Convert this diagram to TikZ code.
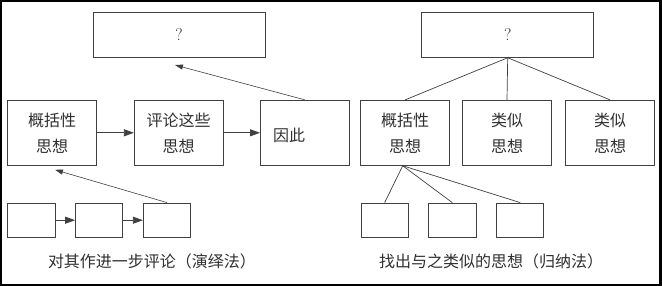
\documentclass[tikz,border=0pt]{standalone}
\usepackage{fontspec}
\newfontfamily\cjk{Noto Sans CJK SC}
\usetikzlibrary{arrows.meta,calc}
\definecolor{linec}{HTML}{404040}
\definecolor{txtc}{HTML}{303030}
\begin{document}
\begin{tikzpicture}[x=1pt,y=-1pt,
  bx/.style n args={2}{draw=linec,line width=0.9pt,minimum width=#1,minimum height=#2,inner sep=0pt,
    font=\cjk\fontsize{16}{26}\selectfont,align=center,text=txtc},
  qbox/.style={bx={172pt}{45pt},font=\fontsize{17}{20}\selectfont},
  bigbox/.style={bx={88.7pt}{65pt}},
  smallbox/.style={bx={47.3pt}{34.3pt}},
  harrow/.style={draw=linec,line width=0.8pt,-{Triangle[length=10pt,width=7pt]}},
  darrow/.style={draw=linec,line width=0.6pt,-{Triangle[length=8pt,width=5pt]}},
  conn/.style={draw=linec,line width=0.7pt},
  caption/.style={font=\cjk\fontsize{16}{20}\selectfont,text=txtc,inner sep=0pt}]
\fill[black] (0,0) rectangle (662,286);
\fill[white] (2,2.5) rectangle (659.3,283.6);

% left: deduction
\node[qbox] (q1) at (179,34.8) {?};
\node[bigbox] (a1) at (52.2,132.8) {概括性\\思想};
\node[bigbox] (a2) at (178.7,132.8) {评论这些\\思想};
\node[bigbox] (a3) at (304.8,132.8) {};
\node[font=\cjk\fontsize{16}{20}\selectfont,text=txtc,inner sep=0pt] (a3t) at (289.2,135) {因此};
\node[smallbox] (b1) at (31.3,220.2) {};
\node[smallbox] (b2) at (99.2,220.2) {};
\node[smallbox] (b3) at (167,220.2) {};
\coordinate (t1) at (55,169.8);
\coordinate (t2) at (175,65);
\draw[harrow] (a1) -- (a2);
\draw[harrow] (a2) -- (a3);
\draw[harrow] (b1) -- (b2);
\draw[harrow] (b2) -- (b3);
\draw[darrow] (b3.north) -- (t1);
\draw[darrow] (a3.north) -- (t2);
\node[caption] (cap1) at (152,261.5) {对其作进一步评论（演绎法）};

% right: induction
\node[qbox] (q2) at (507.7,34.8) {?};
\node[bigbox] (c1) at (405.2,132.8) {概括性\\思想};
\node[bigbox] (c2) at (507,132.8) {类似\\思想};
\node[bigbox] (c3) at (610,132.8) {类似\\思想};
\node[smallbox] (d1) at (384.7,220.2) {};
\node[smallbox] (d2) at (452.3,220.2) {};
\node[smallbox] (d3) at (520.2,220.2) {};
\draw[conn] (q2.south) -- (c1.north);
\draw[conn] (q2.south) -- (c2.north);
\draw[conn] (q2.south) -- (c3.north);
\coordinate (s1) at ($(c1.south)+(-2.5,0)$);
\draw[conn] (s1) -- (d1.north);
\draw[conn] (s1) -- (d2.north);
\draw[conn] (s1) -- (d3.north);
\node[caption] (cap2) at (491,261.5) {找出与之类似的思想（归纳法）};
\end{tikzpicture}
\end{document}
